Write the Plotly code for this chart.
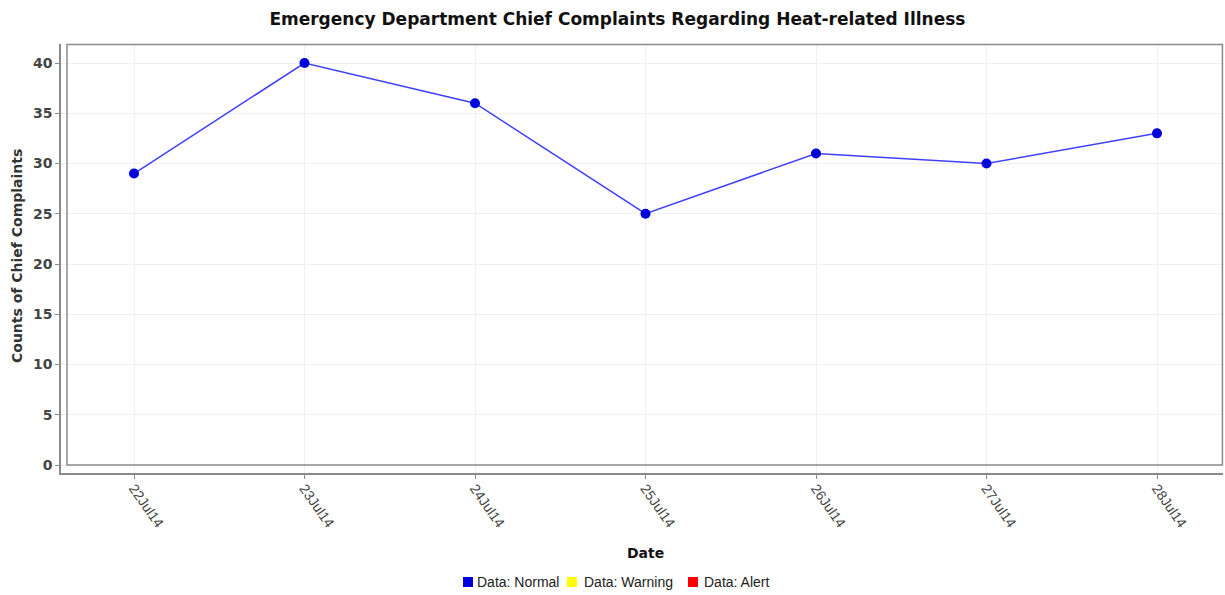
import plotly.graph_objects as go

dates = ["22Jul14", "23Jul14", "24Jul14", "25Jul14", "26Jul14", "27Jul14", "28Jul14"]
counts = [29, 40, 36, 25, 31, 30, 33]
y_ticks = [0, 5, 10, 15, 20, 25, 30, 35, 40]
legend_names = ["Data: Normal", "Data: Warning", "Data: Alert"]
legend_colors = ["#0000dd", "#ffff00", "#ff0000"]

W, H = 1225, 595
ml, mr, mt, mb = 61, 2, 44, 122
box_l, box_r, box_t, box_b = 67, 1223, 44, 465
pw, ph = W - ml - mr, H - mt - mb

x_px_per = 170.5
x0_px = 134
y_px_per = 10.05
y0_px = 465
xr = [(ml - x0_px) / x_px_per, (W - mr - x0_px) / x_px_per]
yr = [(y0_px - (H - mb)) / y_px_per, (y0_px - mt) / y_px_per]

fig = go.Figure()
fig.add_trace(go.Scatter(
    x=list(range(len(dates))), y=counts, mode="lines+markers",
    line=dict(color="#4040ff", width=1.5),
    marker=dict(color="#0000dd", size=10),
    showlegend=False, hoverinfo="x+y",
))

def px_x(p):
    return (p - ml) / pw

def px_y(p):
    return 1 - (p - mt) / ph

shapes = [
    dict(type="rect", xref="paper", yref="paper", x0=0, x1=px_x(box_l), y0=0, y1=1,
         fillcolor="white", line_width=0, layer="between"),
    dict(type="rect", xref="paper", yref="paper", x0=0, x1=1, y0=0, y1=px_y(box_b),
         fillcolor="white", line_width=0, layer="between"),
    dict(type="rect", xref="paper", yref="paper", x0=px_x(box_l), x1=px_x(box_r) - 0.0005,
         y0=px_y(box_b), y1=px_y(box_t) - 0.001, line=dict(color="#8a8a8a", width=1.5),
         fillcolor="rgba(0,0,0,0)", layer="above"),
]

# legend: squares + labels (pixel layout)
leg_sq_x = [463, 567, 688]
leg_txt_x = [475, 582, 702]
leg_y = 582
annotations = []
for n, c, sx, tx in zip(legend_names, legend_colors, leg_sq_x, leg_txt_x):
    shapes.append(dict(type="rect", xref="paper", yref="paper",
                       x0=px_x(sx), x1=px_x(sx + 10), y0=px_y(leg_y + 5), y1=px_y(leg_y - 5),
                       fillcolor=c, line_width=0, layer="above"))
    annotations.append(dict(text=n, xref="paper", yref="paper", x=px_x(tx), y=px_y(leg_y),
                            xanchor="left", yanchor="middle", showarrow=False,
                            font=dict(family="Liberation Sans, Arial", size=14, color="#222222")))

annotations += [
    dict(text="<b>Date</b>", xref="paper", yref="paper", x=px_x(645), y=px_y(553),
         xanchor="center", yanchor="middle", showarrow=False,
         font=dict(family="DejaVu Sans", size=14, color="#111111")),
    dict(text="<b>Counts of Chief Complaints</b>", xref="paper", yref="paper", x=px_x(17), y=px_y(256),
         xanchor="center", yanchor="middle", showarrow=False, textangle=-90,
         font=dict(family="DejaVu Sans", size=14, color="#333333")),
]

fig.update_layout(
    width=W, height=H,
    margin=dict(l=ml, r=mr, t=mt, b=mb, autoexpand=False),
    paper_bgcolor="white", plot_bgcolor="white",
    shapes=shapes, annotations=annotations,
    title=dict(text="<b>Emergency Department Chief Complaints Regarding Heat-related Illness</b>",
               x=0.504, xref="container", xanchor="center", y=1 - 19 / H, yanchor="middle",
               font=dict(family="DejaVu Sans", size=17, color="#111111")),
    font=dict(family="Liberation Sans, Arial", color="#444444"),
    xaxis=dict(
        range=xr, tickmode="array", tickvals=list(range(len(dates))), ticktext=dates,
        tickangle=55, ticks="outside", ticklen=4, tickcolor="#8a8a8a",
        ticklabelstandoff=-4,
        showline=True, linecolor="#8a8a8a", linewidth=1.5, automargin=False,
        showgrid=True, gridcolor="#f0f0f0", gridwidth=1, zeroline=False,
        tickfont=dict(family="Liberation Sans, Arial", size=14, color="#444444"),
    ),
    yaxis=dict(
        range=yr, tickmode="array", tickvals=y_ticks, ticktext=[f"<b>{v}</b>" for v in y_ticks],
        ticks="outside", ticklen=4, tickcolor="#8a8a8a",
        showline=True, linecolor="#8a8a8a", linewidth=1.5, automargin=False,
        showgrid=True, gridcolor="#f0f0f0", gridwidth=1, zeroline=False,
        tickfont=dict(family="DejaVu Sans", size=14, color="#444444"),
    ),
    showlegend=False,
)

fig.write_html("out.html", post_script="document.body.style.margin='0';",
               config={"displayModeBar": False})
